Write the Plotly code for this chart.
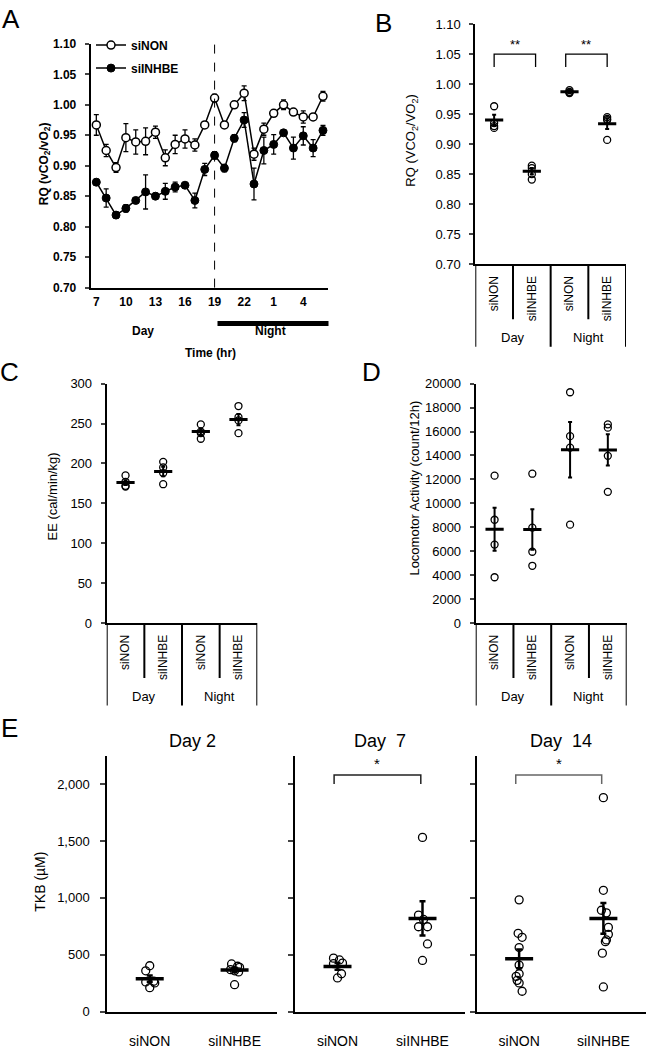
import plotly.graph_objects as go

W, H = 646, 1049
FONT = "Arial, Liberation Sans, sans-serif"

# ---------------- Panel A data ----------------
hours = ["7", "8", "9", "10", "11", "12", "13", "14", "15", "16", "17", "18",
         "19", "20", "21", "22", "23", "0", "1", "2", "3", "4", "5", "6"]
hour_ticks = ["7", "10", "13", "16", "19", "22", "1", "4"]
rq_sinon = [0.967, 0.925, 0.897, 0.946, 0.939, 0.940, 0.955, 0.913, 0.935, 0.944, 0.934, 0.967,
            1.011, 0.967, 1.000, 1.019, 0.919, 0.960, 0.986, 1.000, 0.988, 0.980, 0.980, 1.014]
rq_sinon_err = [0.017, 0.010, 0.008, 0.023, 0.020, 0.022, 0.010, 0.013, 0.015, 0.015, 0.010, 0.005,
                0.006, 0.005, 0.005, 0.012, 0.010, 0.010, 0.005, 0.008, 0.005, 0.010, 0.004, 0.008]
rq_siinhbe = [0.873, 0.847, 0.819, 0.830, 0.843, 0.857, 0.850, 0.858, 0.865, 0.868, 0.843, 0.894,
              0.917, 0.896, 0.945, 0.975, 0.870, 0.925, 0.935, 0.954, 0.929, 0.949, 0.929, 0.958]
rq_siinhbe_err = [0.005, 0.015, 0.005, 0.006, 0.004, 0.028, 0.005, 0.013, 0.008, 0.003, 0.012, 0.010,
                  0.006, 0.006, 0.006, 0.012, 0.026, 0.022, 0.016, 0.004, 0.018, 0.015, 0.014, 0.008]

# ---------------- Panels B-D shared categories ----------------
groups = ["siNON", "siINHBE", "siNON", "siINHBE"]
periods = ["Day", "Night"]

# Panel B: RQ
rq_points = [[0.963, 0.935, 0.927, 0.930],
             [0.864, 0.860, 0.850, 0.841],
             [0.990, 0.985, 0.987, 0.986],
             [0.945, 0.942, 0.940, 0.907]]
rq_mean = [0.940, 0.855, 0.987, 0.934]
rq_sem = [0.009, 0.005, 0.002, 0.009]

# Panel C: EE
ee_points = [[185, 177, 172, 171],
             [202, 195, 188, 174],
             [249, 240, 238, 231],
             [272, 258, 254, 238]]
ee_mean = [176, 190, 240, 255]
ee_sem = [3, 6, 4, 7]

# Panel D: locomotor activity
la_points = [[12314, 8628, 6553, 3822],
             [12478, 7973, 5952, 4778],
             [19288, 15616, 14658, 8219],
             [16603, 16329, 13973, 10959]]
la_mean = [7840, 7810, 14470, 14466]
la_sem = [1800, 1700, 2320, 1300]

# ---------------- Panel E: TKB ----------------
e_days = ["Day 2", "Day\u00a0 7", "Day\u00a0 14"]
e_groups = ["siNON", "siINHBE"]
tkb_points = [
    [[404, 360, 268, 262, 253, 212], [420, 400, 390, 370, 360, 350, 238]],
    [[471, 455, 427, 422, 334, 297], [1532, 849, 811, 747, 747, 596, 451]],
    [[983, 689, 654, 564, 410, 334, 311, 276, 253, 180],
     [1881, 1067, 892, 869, 741, 680, 631, 616, 515, 218]],
]
# horizontal spread of the dots (pixels)
tkb_spread = [
    [[0, -4, 4, -4, 5, 0], [-3, 3, 5, -4, 0, 4, 0]],
    [[-4, 2, 5, -4, 4, 0], [0, -4, 1, -4, 5, 5, 0]],
    [[0, -1, 3, 0, 0, 0, -3, -2, 0, 3], [0, 0, -2, 3, 5, 5, 3, 2, -1, 0]],
]
tkb_mean = [[291, 366], [398, 820], [465, 820]]
tkb_sem = [[28, 20], [30, 150], [83, 135]]


def xd(p0, p1):
    return [p0 / W, p1 / W]


def yd(top, bottom):
    return [1 - bottom / H, 1 - top / H]


def px(x):
    return x / W


def py(y):
    return 1 - y / H


fig = go.Figure()
shapes = []
annots = []

base_axis = dict(showline=True, linecolor="black", linewidth=2, showgrid=False,
                 zeroline=False, mirror=False)

# ================= Panel A =================
fig.add_trace(go.Scatter(
    x=hours, y=rq_siinhbe, name="<b>siINHBE</b>", legendgroup="b", legendrank=2,
    mode="lines+markers", line=dict(color="black", width=1.5),
    marker=dict(symbol="circle", size=8, color="black", line=dict(color="black", width=1)),
    error_y=dict(type="data", array=rq_siinhbe_err, color="black", thickness=1.3, width=2.5),
    xaxis="x", yaxis="y"))
fig.add_trace(go.Scatter(
    x=hours, y=rq_sinon, name="<b>siNON</b>", legendgroup="a", legendrank=1,
    mode="lines+markers", line=dict(color="black", width=1.5),
    marker=dict(symbol="circle", size=8, color="white", line=dict(color="black", width=1.5)),
    error_y=dict(type="data", array=rq_sinon_err, color="black", thickness=1.3, width=2.5),
    xaxis="x", yaxis="y"))

layout_axes = {}
layout_axes["xaxis"] = dict(base_axis, domain=xd(90.7, 328.3), type="category",
                            range=[-0.57, 23.54], tickmode="array", tickvals=hour_ticks,
                            ticks="", ticklen=0, ticklabelstandoff=2,
                            tickfont=dict(family=FONT, size=12, color="black", weight="bold"),
                            anchor="y")
layout_axes["yaxis"] = dict(base_axis, domain=yd(37.5, 285.5), range=[0.70, 1.10],
                            dtick=0.05, tick0=0.70, tickformat=".2f", ticks="outside",
                            ticklen=4, tickwidth=2, ticklabelstandoff=6,
                            tickfont=dict(family=FONT, size=12, color="black", weight="bold"),
                            anchor="x")

# dashed line at 19:00 (index 12 of the hour categories)
shapes.append(dict(type="line", xref="x", yref="paper", x0=hours.index("19"),
                   x1=hours.index("19"), y0=py(285.5), y1=py(30.5),
                   line=dict(color="black", width=1, dash="dash")))
shapes.append(dict(type="rect", xref="paper", yref="paper", x0=px(217.5), x1=px(328.5),
                   y0=py(324.5), y1=py(319.5), fillcolor="black", line=dict(width=0)))
annots += [
    dict(text="<b>RQ (vCO<sub>2</sub>/vO<sub>2</sub>)</b>", x=px(45), y=py(160), textangle=-90,
         font=dict(size=12)),
    dict(text="<b>Day</b>", x=px(143), y=py(330), font=dict(size=12)),
    dict(text="<b>Night</b>", x=px(270), y=py(330), font=dict(size=12)),
    dict(text="<b>Time (hr)</b>", x=px(210), y=py(352), font=dict(size=12)),
]


# ================= Panels B, C, D =================
def cat_panel(n, xdom, ytop, ybot, yrange, dtick, tickformat, points, mean, sem, ytitle,
              title_xy, mean_size=13):
    xa, ya = f"x{n}", f"y{n}"
    xs, ys = [], []
    for i, pts in enumerate(points):
        xs += [i] * len(pts)
        ys += pts
    fig.add_trace(go.Scatter(x=xs, y=ys, mode="markers", showlegend=False,
                             marker=dict(symbol="circle-open", size=7, color="black",
                                         line=dict(color="black", width=1.3)),
                             xaxis=xa, yaxis=ya))
    fig.add_trace(go.Scatter(x=list(range(len(mean))), y=mean, mode="markers", showlegend=False,
                             marker=dict(symbol="line-ew", size=mean_size, color="black",
                                         line=dict(color="black", width=3)),
                             error_y=dict(type="data", array=sem, color="black",
                                          thickness=2, width=2),
                             xaxis=xa, yaxis=ya))
    layout_axes[f"xaxis{n}"] = dict(base_axis, domain=xd(*xdom), range=[-0.5, 3.5],
                                    tickmode="array", tickvals=list(range(4)), ticktext=groups,
                                    tickangle=-90, ticks="", ticklen=0, ticklabelstandoff=5,
                                    tickfont=dict(family=FONT, size=12, color="black"),
                                    anchor=ya)
    layout_axes[f"yaxis{n}"] = dict(base_axis, domain=yd(ytop, ybot), range=yrange,
                                    dtick=dtick, tick0=yrange[0], tickformat=tickformat,
                                    ticks="outside", ticklen=4, tickwidth=2,
                                    ticklabelstandoff=6,
                                    tickfont=dict(family=FONT, size=13, color="black"),
                                    anchor=xa)
    for xv in (0.5, 2.5):
        shapes.append(dict(type="line", xref=xa, yref="paper", x0=xv, x1=xv,
                           y0=py(ybot), y1=py(ybot + 56), line=dict(color="black", width=2)))
    for xv in (-0.5, 1.5, 3.5):
        shapes.append(dict(type="line", xref=xa, yref="paper", x0=xv, x1=xv,
                           y0=py(ybot), y1=py(ybot + 84), line=dict(color="black", width=2)))
    for k, per in enumerate(periods):
        annots.append(dict(text=per, xref=xa, yref="paper", x=0.5 + 2 * k, y=py(ybot + 75),
                           font=dict(size=13)))
    annots.append(dict(text=ytitle, x=px(title_xy[0]), y=py(title_xy[1]), textangle=-90,
                       font=dict(size=13)))


cat_panel(2, (475.3, 626), 17.3, 261.7, [0.70, 1.10], 0.05, ".2f", rq_points, rq_mean,
          rq_sem, "RQ (VCO<sub>2</sub>/VO<sub>2</sub>)", (412, 136))
cat_panel(3, (106.7, 257.3), 383.3, 626.7, [0, 300], 50, "d", ee_points, ee_mean,
          ee_sem, "EE (cal/min/kg)", (52, 498))
cat_panel(4, (475.7, 626.7), 383.3, 626.7, [0, 20000], 2000, "d", la_points, la_mean,
          la_sem, "Locomotor Activity (count/12h)", (415, 490))

# significance brackets in B
for (a, b) in ((0.0, 1.1), (1.9, 3.0)):
    shapes.append(dict(type="path", xref="x2", yref="y2",
                       path=f"M {a},1.0285 L {a},1.0498 L {b},1.0498 L {b},1.0285",
                       line=dict(color="black", width=1.3)))
    annots.append(dict(text="**", xref="x2", yref="y2", x=(a + b) / 2, y=1.066,
                       font=dict(size=13)))

# ================= Panel E =================
e_xdoms = [(107.3, 277), (295, 465), (477, 645.5)]
for d in range(3):
    n = 5 + d
    xa, ya = f"x{n}", f"y{n}"
    unit = (e_xdoms[d][1] - e_xdoms[d][0]) / 2.0
    xs, ys = [], []
    for g in range(2):
        for v, s in zip(tkb_points[d][g], tkb_spread[d][g]):
            xs.append(g + s / unit)
            ys.append(v)
    fig.add_trace(go.Scatter(x=xs, y=ys, mode="markers", showlegend=False,
                             marker=dict(symbol="circle-open", size=8, color="black",
                                         line=dict(color="black", width=1.3)),
                             xaxis=xa, yaxis=ya))
    fig.add_trace(go.Scatter(x=[0, 1], y=tkb_mean[d], mode="markers", showlegend=False,
                             marker=dict(symbol="line-ew", size=20, color="black",
                                         line=dict(color="black", width=3.5)),
                             error_y=dict(type="data", array=tkb_sem[d], color="black",
                                          thickness=2.5, width=3),
                             xaxis=xa, yaxis=ya))
    layout_axes[f"xaxis{n}"] = dict(base_axis, domain=xd(*e_xdoms[d]), range=[-0.5, 1.5],
                                    tickmode="array", tickvals=[0, 1], ticktext=e_groups,
                                    ticks="", ticklen=0, ticklabelstandoff=15,
                                    tickfont=dict(family=FONT, size=14, color="black"),
                                    anchor=ya)
    layout_axes[f"yaxis{n}"] = dict(base_axis, domain=yd(762.3, 1022.3), range=[0, 2245],
                                    tickmode="array", tickvals=[0, 500, 1000, 1500, 2000],
                                    tickformat=",d", ticks="outside", ticklen=5, tickwidth=2,
                                    showticklabels=(d == 0), ticklabelstandoff=8,
                                    tickfont=dict(family=FONT, size=13, color="black"),
                                    anchor=xa)
    annots.append(dict(text=e_days[d], xref=f"{xa} domain", yref="paper", x=0.5, y=py(747),
                       font=dict(size=18)))

for n, col in ((6, "#222222"), (7, "#666666")):
    shapes.append(dict(type="path", xref=f"x{n}", yref=f"y{n}",
                       path="M -0.04,2000 L -0.04,2080 L 0.98,2080 L 0.98,2000",
                       line=dict(color=col, width=1.5)))
    annots.append(dict(text="*", xref=f"x{n}", yref=f"y{n}", x=0.47, y=2180,
                       font=dict(size=15)))
annots.append(dict(text="TKB (\u00b5M)", x=px(40), y=py(890), textangle=-90,
                   font=dict(size=14)))

# panel letters
for lab, (lx, ly) in {"A": (11, 12), "B": (383, 16), "C": (9, 371), "D": (371, 371),
                      "E": (9, 734)}.items():
    annots.append(dict(text=lab, x=px(lx), y=py(ly), font=dict(size=26)))

for a in annots:
    a.setdefault("xref", "paper")
    a.setdefault("yref", "paper")
    a.setdefault("showarrow", False)
    a.setdefault("xanchor", "center")
    a.setdefault("yanchor", "middle")
    f = a.setdefault("font", {})
    f.setdefault("family", FONT)
    f.setdefault("color", "black")

fig.update_layout(
    width=W, height=H, autosize=False,
    margin=dict(l=0, r=0, t=0, b=0),
    paper_bgcolor="white", plot_bgcolor="white",
    font=dict(family=FONT, color="black"),
    showlegend=True,
    legend=dict(x=px(91), y=py(24), xanchor="left", yanchor="top",
                bgcolor="rgba(0,0,0,0)", tracegroupgap=4, itemwidth=30,
                font=dict(family=FONT, size=12, color="black")),
    shapes=shapes, annotations=annots,
    **layout_axes,
)

fig.write_html("out.html", config={"displayModeBar": False},
               post_script="document.body.style.margin='0';document.body.style.padding='0';")
